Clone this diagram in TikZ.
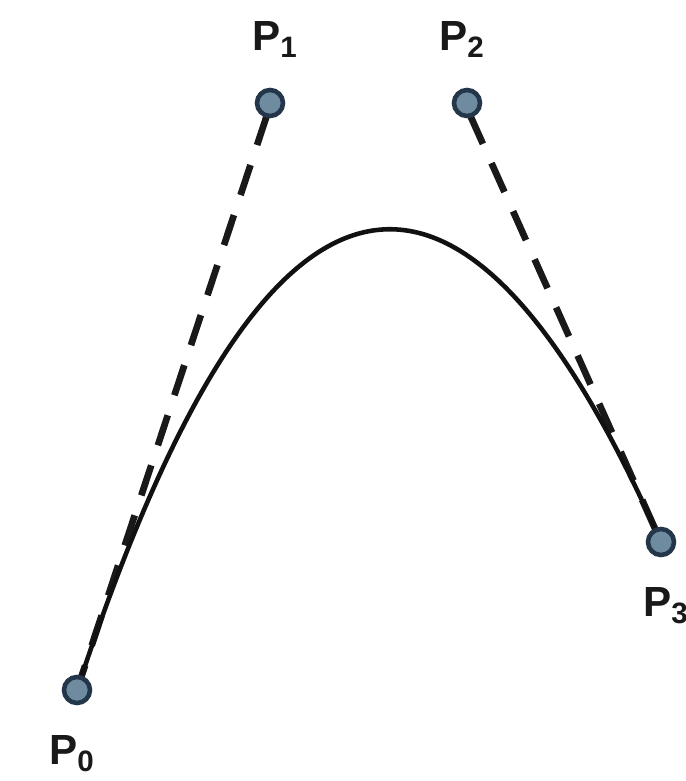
\documentclass[tikz,border=0pt]{standalone}
\usepackage{fontspec}
\setsansfont{Liberation Sans}
\usepackage{tikz}
\usetikzlibrary{positioning}
\definecolor{ptFill}{HTML}{6F8BA0}
\definecolor{ptEdge}{HTML}{24364A}
\definecolor{curveInk}{HTML}{111111}
\newcommand{\pt}[1]{\textbf{P}\textsubscript{\textbf{#1}}}

\begin{document}
\begin{tikzpicture}[
  x=0.02cm, y=-0.02cm,
  font=\sffamily\fontsize{24}{28}\selectfont,
  ctrl/.style={circle, draw=ptEdge, fill=ptFill, line width=2.6pt,
               minimum size=5.2mm, inner sep=0pt},
  lbl/.style={text=black!90, inner sep=0pt},
  hull/.style={draw=black!90, line width=3.8pt, dash pattern=on 18pt off 12pt},
  bez/.style={draw=curveInk, line width=2.6pt},
]
\useasboundingbox (0,0) rectangle (686,781);

\coordinate (c0) at (77,690);
\coordinate (c1) at (270,103);
\coordinate (c2) at (467,103);
\coordinate (c3) at (661,542);

% control polygon legs
\draw[hull] ([shift={(-3,12)}]c1) -- (c0);
\draw[hull] ([shift={(3,12)}]c2) -- (c3);

% the curve itself
\draw[bez] (c0) .. controls (c1) and (c2) .. (c3);

\node[ctrl] (p0) at (c0) {};
\node[ctrl] (p1) at (c1) {};
\node[ctrl] (p2) at (c2) {};
\node[ctrl] (p3) at (c3) {};

\node[lbl, above=6mm of p1, xshift=1mm] (l1) {\pt{1}};
\node[lbl, above=6mm of p2, xshift=-1mm] (l2) {\pt{2}};
\node[lbl, below=6mm of p0, xshift=-1mm] (l0) {\pt{0}};
\node[lbl, below=6mm of p3, xshift=1mm] (l3) {\pt{3}};
\end{tikzpicture}
\end{document}
